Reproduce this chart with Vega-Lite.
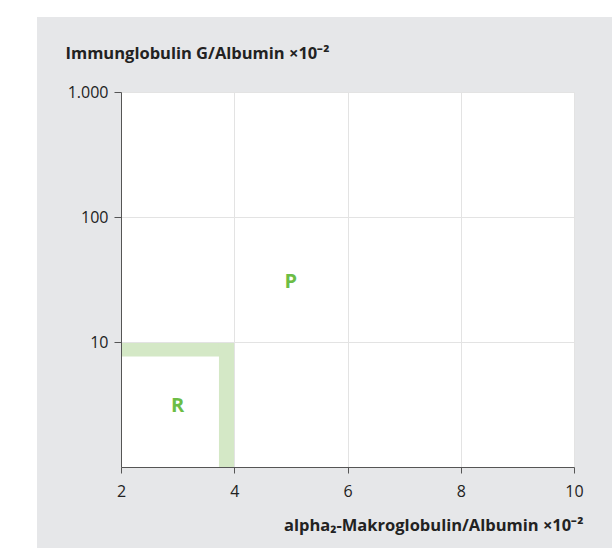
{
  "$schema": "https://vega.github.io/schema/vega-lite/v6.json",
  "autosize": {"type": "none"},
  "width": 453,
  "height": 375,
  "padding": {"left": 121, "top": 92, "right": 40, "bottom": 87},
  "background": "white",
  "config": {
    "view": {"stroke": null},
    "font": "Open Sans"
  },
  "datasets": {
    "bands": [
      {"zone": "R-Grenze horizontal", "x": 2, "x2": 4, "y": 7.65, "y2": 10},
      {"zone": "R-Grenze vertikal", "x": 3.73, "x2": 4, "y": 1, "y2": 10}
    ],
    "labels": [
      {"label": "R", "x": 3, "y": 3.1},
      {"label": "P", "x": 5, "y": 30}
    ]
  },
  "encoding": {
    "x": {
      "field": "x",
      "type": "quantitative",
      "scale": {"domain": [2, 10], "nice": false, "zero": false},
      "axis": {
        "zindex": 1,
        "values": [2, 4, 6, 8, 10],
        "domainColor": "#555555",
        "tickColor": "#555555",
        "gridColor": "#e3e3e3",
        "tickSize": 6,
        "labelPadding": 10,
        "labelFlush": false,
        "labelFont": "Open Sans",
        "labelFontSize": 16,
        "labelColor": "#222222",
        "title": "alpha₂-Makroglobulin/Albumin ×10⁻²",
        "titleFont": "Open Sans",
        "titleFontSize": 16.5,
        "titleFontWeight": "bold",
        "titleColor": "#222222",
        "titleX": 462,
        "titleY": 58,
        "titleAlign": "right",
        "titleBaseline": "middle"
      }
    },
    "y": {
      "field": "y",
      "type": "quantitative",
      "scale": {"type": "log", "domain": [1, 1000], "nice": false},
      "axis": {
        "zindex": 1,
        "values": [10, 100, 1000],
        "labelExpr": "datum.value == 1000 ? '1.000' : datum.label",
        "domainColor": "#555555",
        "tickColor": "#555555",
        "gridColor": "#e3e3e3",
        "tickSize": 7,
        "labelPadding": 6,
        "labelFlush": false,
        "labelFont": "Open Sans",
        "labelFontSize": 16,
        "labelColor": "#222222",
        "title": "Immunglobulin G/Albumin ×10⁻²",
        "titleFont": "Open Sans",
        "titleFontSize": 16.5,
        "titleFontWeight": "bold",
        "titleColor": "#222222",
        "titleAngle": 0,
        "titleX": -56,
        "titleY": -39,
        "titleAlign": "left",
        "titleBaseline": "middle"
      }
    }
  },
  "layer": [
    {
      "data": {"values": [{"x": 0.5166, "y": 0.2249}]},
      "mark": {"type": "rect", "color": "#e6e7e9", "clip": false},
      "encoding": {
        "x2": {"datum": 10.671},
        "y2": {"datum": 3981}
      }
    },
    {
      "data": {"values": [{"x": 2, "y": 1}]},
      "mark": {"type": "rect", "color": "white"},
      "encoding": {
        "x2": {"datum": 10},
        "y2": {"datum": 1000}
      }
    },
    {
      "data": {"name": "bands"},
      "mark": {"type": "rect", "color": "#d4e8c6"},
      "encoding": {
        "x2": {"field": "x2"},
        "y2": {"field": "y2"}
      }
    },
    {
      "data": {"name": "labels"},
      "mark": {"type": "text", "color": "#6cbd45", "fontSize": 20, "fontWeight": "bold", "font": "Open Sans", "baseline": "middle", "align": "center"},
      "encoding": {
        "text": {"field": "label"}
      }
    }
  ]
}
